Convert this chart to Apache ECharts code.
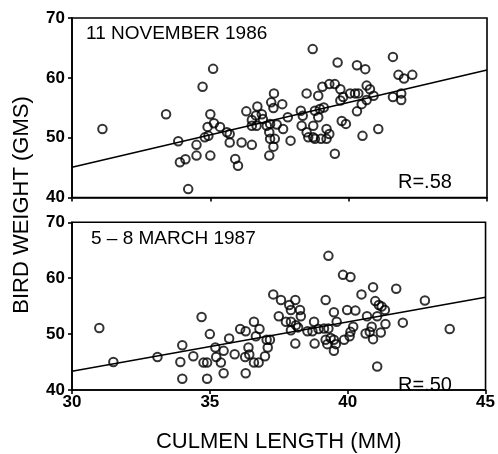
<!DOCTYPE html>
<html>
<head>
<meta charset="utf-8">
<script src="https://cdn.jsdelivr.net/npm/echarts@6/dist/echarts.min.js"></script>
<style>html,body{margin:0;padding:0;background:#fff;}#c{width:498px;height:454px;}</style>
</head>
<body>
<div id="c"></div>
<script>
// ---- DATA ----
const xTicks = [30, 35, 40, 45];
const yTicks = [40, 50, 60, 70];

const novPoints = [
[31.1,51.45],[33.4,53.9],[33.84,49.4],[33.9,45.9],[34.1,46.4],[34.2,41.4],[34.5,48.8],[34.5,47.0],
[34.72,58.5],[35.1,61.5],[35.0,53.9],[35.0,47.0],[34.8,50.05],[34.9,51.8],[35.13,52.4],[35.35,51.8],
[34.93,50.3],[35.6,50.9],[35.7,50.6],[35.7,49.2],[35.9,46.45],[36.0,45.3],[36.13,49.2],[36.3,54.4],
[36.5,48.8],[36.5,52.95],[36.5,52.0],[36.67,52.0],
[36.7,55.2],[36.65,53.7],[36.86,53.9],[36.9,53.1],[37.04,52.0],[37.16,52.3],[37.13,50.9],[37.3,57.4],
[37.2,55.9],[37.28,54.95],[37.6,55.6],[37.4,52.2],[37.16,49.8],[37.33,49.8],[37.28,48.5],[37.13,47.0],
[37.63,51.45],[37.9,49.5],[37.8,53.4],[38.27,54.5],[38.34,53.67],[38.48,57.4],[38.3,52.0],[38.48,50.9],
[38.54,50.05],[38.72,52.0],[38.72,50.05],[38.9,57.0],[38.78,54.5],[38.96,54.8],[38.9,53.4],[39.1,55.05],
[39.05,58.5],[39.3,58.95],[39.5,58.95],[39.7,58.1],[38.78,49.8],[39.0,49.8],[39.2,51.45],[39.3,50.6],
[39.2,49.8],[39.5,47.3],[39.75,52.8],[39.9,52.3],[39.7,56.2],[39.8,56.8],[40.05,57.4],[40.23,57.4],
[40.35,57.4],[40.3,54.4],[40.47,55.6],[40.65,58.7],[40.77,58.1],[40.9,57.0],[40.65,56.3],[40.5,50.3],
[41.07,51.45],
[38.7,64.8],[39.6,62.55],[40.3,62.1],[40.6,61.45],[41.6,63.5],[41.8,60.5],[42.0,59.9],[42.3,60.5],
[41.6,56.8],[41.9,56.3],[41.9,57.4]
];

const marPoints = [
[30.99,51.1],[31.5,45.0],[33.1,45.9],[34.0,48.0],[33.93,45.0],[34.0,42.0],[34.4,46.05],[34.7,53.05],
[34.77,44.9],[34.9,44.9],[34.9,42.0],[35.0,50.0],[35.2,47.6],[35.23,45.9],[35.4,44.9],[35.5,47.0],
[35.5,43.0],[35.7,49.2],[35.9,46.4],
[36.1,50.9],[36.3,50.5],[36.3,43.0],[36.28,45.9],[36.4,47.6],[36.43,46.35],[36.6,52.2],[36.8,50.9],
[36.67,49.6],[36.6,44.9],[36.77,44.9],[37.06,49.0],[37.18,49.0],[37.1,47.6],[37.0,46.05],[37.3,57.1],
[37.58,56.1],[37.88,55.2],[38.1,56.1],[37.94,54.3],[38.27,54.3],[38.3,53.2],[37.5,53.2],[37.76,52.2],
[37.94,52.2],[38.12,51.6],[37.94,50.7],[38.2,51.2],[38.1,48.3],[38.54,50.5],[38.78,52.2],[38.72,50.5],
[38.94,50.9],[39.14,51.0],[39.3,51.0],[39.2,56.1],[38.8,48.3],[39.2,49.0],[39.26,48.2],[39.38,49.3],
[39.5,49.0],[39.5,47.0],[39.57,48.2],[39.6,52.2],[39.5,53.9],[39.98,54.3],[40.28,54.2],[39.87,49.0],
[40.07,49.6],[40.1,50.4],[40.2,51.3],[40.5,57.1],[40.7,53.2],[40.65,50.1],[40.87,51.3],[40.92,49.1],
[40.92,58.4],[41.0,55.9],[41.13,55.2],[41.23,54.95],[41.35,54.3],[41.07,53.2],[41.37,51.8],[41.2,50.3],
[40.8,50.4],[41.76,58.1],[41.07,44.2],
[39.3,64.0],[39.83,60.6],[40.1,60.2],[42.0,52.05],[42.8,56.0],[43.7,50.9]
];

// regression line end points [x, y]
const novLine = [[30, 45.05], [45, 61.3]];
const marLine = [[30, 43.36], [45, 56.6]];

const novTitle = '11 NOVEMBER 1986';
const marTitle = '5 \u2013 8 MARCH 1987';
const novR = 'R=.58';
const marR = 'R=.50';
const yName = 'BIRD WEIGHT (GMS)';
const xName = 'CULMEN LENGTH (MM)';

// ---- CHART ----
const FONT = '"Liberation Sans", Arial, Helvetica, sans-serif';
const chart = echarts.init(document.getElementById('c'), null, {renderer: 'canvas'});

function xAxis(gi, showLabel) {
  return {
    type: 'value', gridIndex: gi, min: 30, max: 45, interval: 5,
    axisLine: {show: true, onZero: false, lineStyle: {color: '#000', width: 1.6}},
    axisTick: {show: true, inside: false, length: 4, lineStyle: {color: '#000', width: 1.6}},
    axisLabel: {show: showLabel, color: '#000', fontFamily: FONT, fontWeight: 'bold', fontSize: 17, margin: 4,
      formatter: v => xTicks.includes(v) ? String(v) : ''},
    splitLine: {show: false},
    name: showLabel ? xName : '', nameLocation: 'middle', nameGap: 41,
    nameTextStyle: {color: '#000', fontFamily: FONT, fontSize: 22}
  };
}
function yAxis(gi) {
  return {
    type: 'value', gridIndex: gi, min: 40, max: 70, interval: 10,
    axisLine: {show: true, onZero: false, lineStyle: {color: '#000', width: 1.6}},
    axisTick: {show: true, inside: false, length: 4, lineStyle: {color: '#000', width: 1.6}},
    axisLabel: {show: true, color: '#000', fontFamily: FONT, fontWeight: 'bold', fontSize: 17, margin: 7,
      formatter: v => yTicks.includes(v) ? String(v) : ''},
    splitLine: {show: false}
  };
}
const markerStyle = {color: 'rgba(0,0,0,0)', borderColor: '#000', borderWidth: 2};

chart.setOption({
  animation: false,
  backgroundColor: '#fff',
  grid: [
    {left: 72, right: 11, top: 18, height: 179.5, show: true, borderColor: '#000', borderWidth: 1.6, backgroundColor: 'transparent'},
    {left: 72, right: 11, top: 222.3, height: 179.5, show: true, borderColor: '#000', borderWidth: 1.6, backgroundColor: 'transparent'}
  ],
  xAxis: [xAxis(0, false), xAxis(1, true)],
  yAxis: [yAxis(0), yAxis(1)],
  series: [
    {type: 'line', xAxisIndex: 0, yAxisIndex: 0, data: novLine, showSymbol: false, symbol: 'none',
      lineStyle: {color: '#000', width: 1.6}, silent: true},
    {type: 'scatter', xAxisIndex: 0, yAxisIndex: 0, data: novPoints, symbol: 'circle', symbolSize: 8.5,
      itemStyle: markerStyle},
    {type: 'line', xAxisIndex: 1, yAxisIndex: 1, data: marLine, showSymbol: false, symbol: 'none',
      lineStyle: {color: '#000', width: 1.6}, silent: true},
    {type: 'scatter', xAxisIndex: 1, yAxisIndex: 1, data: marPoints, symbol: 'circle', symbolSize: 8.5,
      itemStyle: markerStyle}
  ],
  graphic: [
    {type: 'text', left: 86, top: 24, style: {text: novTitle, fill: '#000', font: '19px ' + FONT}},
    {type: 'text', left: 91, top: 229, style: {text: marTitle, fill: '#000', font: '19px ' + FONT}},
    {type: 'text', left: 398, top: 172, style: {text: novR, fill: '#000', font: '20px ' + FONT}},
    {type: 'text', left: 398, top: 375, style: {text: marR, fill: '#000', font: '20px ' + FONT}},
    {type: 'text', x: 22, y: 205, rotation: Math.PI / 2,
      style: {text: yName, fill: '#000', font: '22px ' + FONT, align: 'center', verticalAlign: 'middle'}}
  ]
});
</script>
</body>
</html>
